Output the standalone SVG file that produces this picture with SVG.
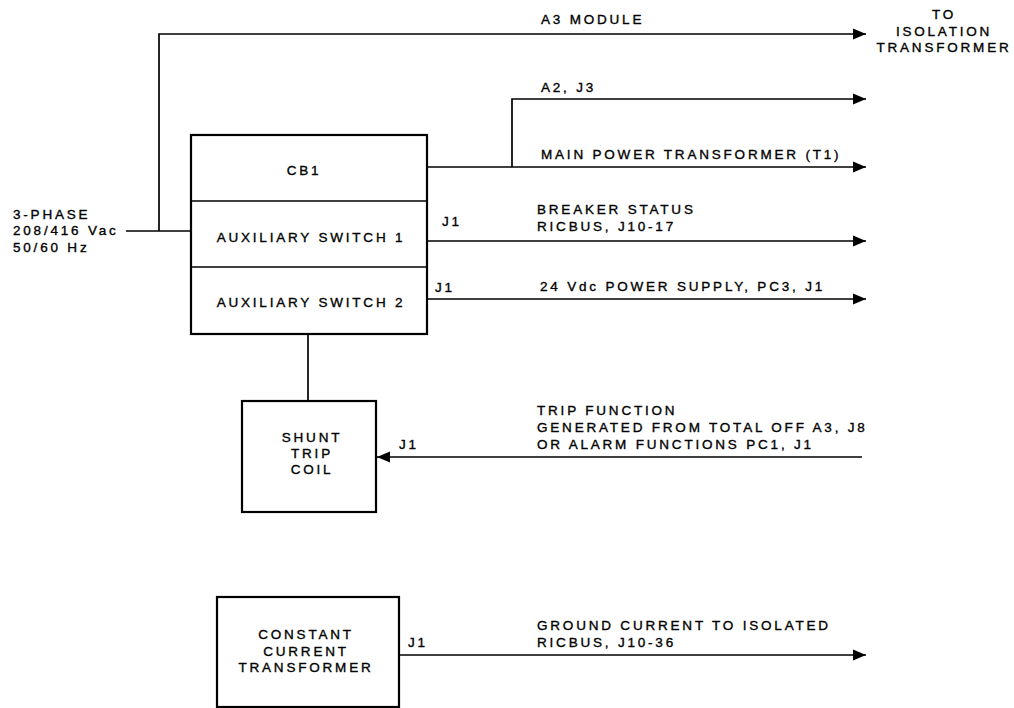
<svg xmlns="http://www.w3.org/2000/svg" width="1014" height="708" viewBox="0 0 1014 708">
<style>
text{font-family:"Liberation Sans",Arial,sans-serif;font-size:13.5px;letter-spacing:2.8px;fill:#000;stroke:#000;stroke-width:0.35}
.c{text-anchor:middle}
.box{fill:#fff;stroke:#000;stroke-width:2.2}
.div{stroke:#000;stroke-width:1.6}
.w{fill:none;stroke:#000;stroke-width:1.7}
</style>
<defs>
<marker id="ah" markerWidth="14" markerHeight="12" refX="13" refY="6" orient="auto" markerUnits="userSpaceOnUse">
<path d="M0,0.5 L13,6 L0,11.5 Z" fill="#000"/>
</marker>
</defs>
<rect width="1014" height="708" fill="#fff"/>
<g id="connectors">
<path class="w" d="M126,231 H191"/>
<path class="w" d="M159,231 V34 H866" marker-end="url(#ah)"/>
<path class="w" d="M427,167 H866" marker-end="url(#ah)"/>
<path class="w" d="M512,167 V99 H866" marker-end="url(#ah)"/>
<path class="w" d="M427,241 H866" marker-end="url(#ah)"/>
<path class="w" d="M427,299 H866" marker-end="url(#ah)"/>
<path class="w" d="M308,334 V401"/>
<path class="w" d="M862,457 H377" marker-end="url(#ah)"/>
<path class="w" d="M399,655 H866" marker-end="url(#ah)"/>
</g>
<g id="labels">
<text x="13" y="219">3-PHASE</text>
<text x="13" y="235">208/416 Vac</text>
<text x="13" y="252">50/60 Hz</text>
<text x="541" y="24">A3 MODULE</text>
<text class="c" x="944" y="19">TO</text>
<text class="c" x="944" y="36">ISOLATION</text>
<text class="c" x="944" y="52">TRANSFORMER</text>
<text x="541" y="92">A2, J3</text>
<text x="541" y="159">MAIN POWER TRANSFORMER (T1)</text>
<text x="442" y="226">J1</text>
<text x="537" y="214">BREAKER STATUS</text>
<text x="537" y="231">RICBUS, J10-17</text>
<text x="435" y="292">J1</text>
<text x="540" y="291">24 Vdc POWER SUPPLY, PC3, J1</text>
<text x="399" y="449">J1</text>
<text x="537" y="415">TRIP FUNCTION</text>
<text x="537" y="432">GENERATED FROM TOTAL OFF A3, J8</text>
<text x="537" y="449">OR ALARM FUNCTIONS PC1, J1</text>
<text x="408" y="647">J1</text>
<text x="537" y="630">GROUND CURRENT TO ISOLATED</text>
<text x="537" y="647">RICBUS, J10-36</text>
</g>
<g id="cb1">
<rect class="box" x="191" y="135" width="236" height="199"/>
<line class="div" x1="191" y1="201" x2="427" y2="201"/>
<line class="div" x1="191" y1="267" x2="427" y2="267"/>
<text class="c" x="304" y="175">CB1</text>
<text class="c" x="311" y="242">AUXILIARY SWITCH 1</text>
<text class="c" x="311" y="307">AUXILIARY SWITCH 2</text>
</g>
<g id="shunt">
<rect class="box" x="242" y="401" width="134" height="111"/>
<text class="c" x="312" y="442">SHUNT</text>
<text class="c" x="312" y="458">TRIP</text>
<text class="c" x="312" y="474">COIL</text>
</g>
<g id="cct">
<rect class="box" x="217" y="597" width="182" height="110"/>
<text class="c" x="306" y="639">CONSTANT</text>
<text class="c" x="306" y="656">CURRENT</text>
<text class="c" x="306" y="672">TRANSFORMER</text>
</g>
</svg>
